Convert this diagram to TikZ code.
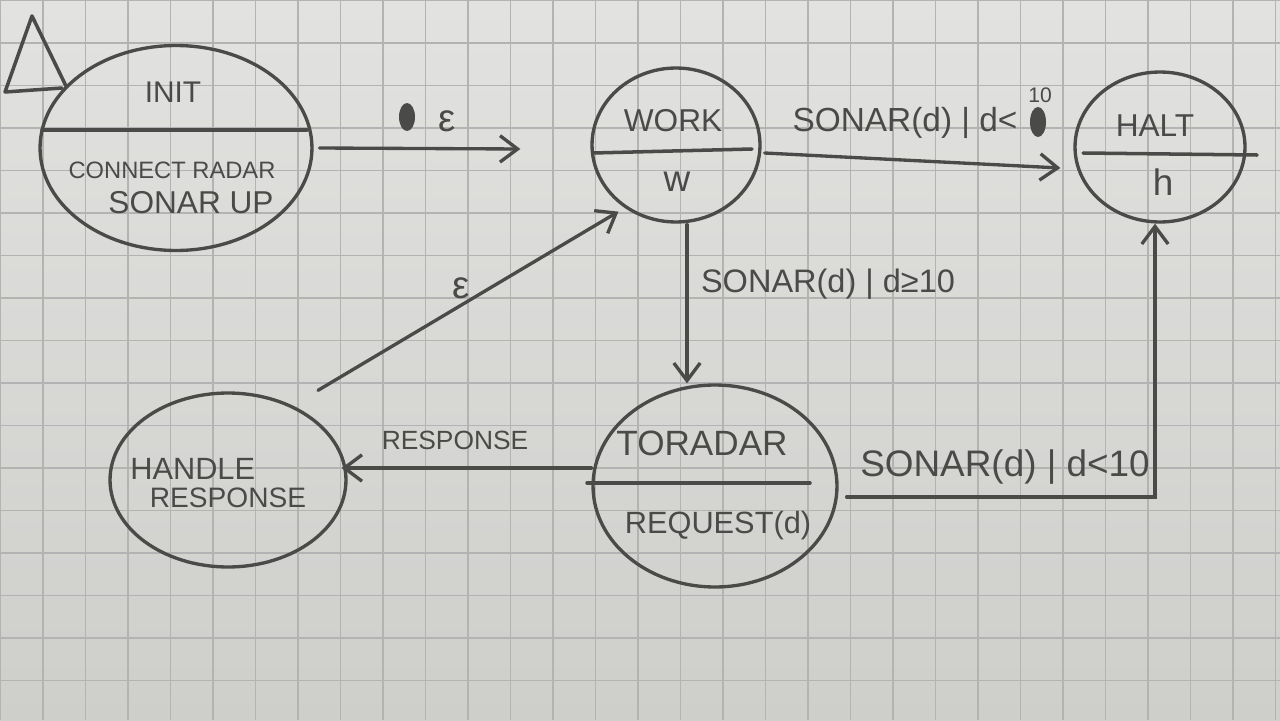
\documentclass[tikz,border=0pt]{standalone}
\usepackage{fontspec}
\setmainfont{Liberation Sans}
\usetikzlibrary{arrows.meta,shapes.geometric,calc}
\definecolor{paper}{RGB}{206,206,203}
\definecolor{papertop}{RGB}{226,226,224}
\definecolor{gridc}{RGB}{178,179,179}
\definecolor{ink}{RGB}{74,75,73}
\newcommand{\fs}[1]{\fontsize{#1}{#1}\selectfont}
\begin{document}
\begin{tikzpicture}[x=0.02cm,y=-0.02cm,
  inkline/.style={draw=ink, line width=2pt, line cap=round},
  state/.style={ellipse, draw=ink, line width=1.9pt, inner sep=0pt},
  lbl/.style={text=ink, inner sep=0pt},
  arr/.style={draw=ink, line width=1.9pt, line cap=round,
    -{Straight Barb[length=10pt,width=15pt,line width=1.9pt]}}]
\useasboundingbox (0,0) rectangle (1280,720);
% paper
\shade[top color=papertop, bottom color=paper] (0,0) rectangle (1280,720);
\foreach \i in {0,...,30} \draw[gridc, line width=0.8pt] (0.5+42.5*\i,0) -- (0.5+42.5*\i,720);
\foreach \j in {0,...,17} \draw[gridc, line width=0.8pt] (0,0.5+42.5*\j) -- (1280,0.5+42.5*\j);

% states
\node[state, minimum width=5.44cm, minimum height=4.1cm] (init) at (176,148) {};
\node[state, minimum width=3.36cm, minimum height=3.08cm] (work) at (676,145) {};
\node[state, minimum width=3.4cm, minimum height=3.0cm] (halt) at (1160,147) {};
\node[state, minimum width=4.88cm, minimum height=4.04cm] (toradar) at (715,486) {};
\node[state, minimum width=4.72cm, minimum height=3.48cm] (handle) at (228,480) {};

% dividers
\draw[inkline] (42,130) -- (307,130);
\draw[inkline] (593,153) -- (752,149);
\draw[inkline] (1083,153) -- (1257,155);
\draw[inkline] (587,483) -- (810,483);

% initial marker
\draw[inkline, line join=round] (66,86) -- (32,16) -- (5,92) -- (62,88);

% state texts
\node[lbl, font=\fs{17}] (initT) at (173,92) {INIT};
\node[lbl, font=\fs{13.5}] (initA) at (172,170) {CONNECT RADAR};
\node[lbl, font=\fs{18}] (initB) at (191,203) {SONAR UP};
\node[lbl, font=\fs{18}] (workT) at (673,121) {WORK};
\node[lbl, font=\fs{21}] (workA) at (677,182) {w};
\node[lbl, font=\fs{18}] (haltT) at (1155,126) {HALT};
\node[lbl, font=\fs{21}] (haltA) at (1163,182) {h};
\node[lbl, font=\fs{20}] (torT) at (702,443) {TORADAR};
\node[lbl, font=\fs{17.5}] (torA) at (718,526) {REQUEST(d)};
\node[lbl, font=\fs{17.5}, anchor=west] (hanT) at (130,469) {HANDLE};
\node[lbl, font=\fs{16}] (hanA) at (228,498) {RESPONSE};

% transitions
\draw[arr] ($(init.east)+(6,0)$) -- ($(work.west)+(-70,4)$);
\draw[arr] ($(work.east)+(3,8)$) -- ($(halt.west)+(-13,21)$);
\draw[arr] ($(work.south)+(11,1)$) -- ($(toradar.north)+(-28,0)$);
\draw[arr] ($(toradar.west)+(0,-18)$) -- ($(handle.east)+(-6,-12)$);
\draw[arr] ($(handle.north)+(90,-1)$) -- ($(work.south west)+(3,11)$);
\draw[arr] ($(toradar.east)+(8,11)$) -| ($(halt.south)+(-5,0)$);

% transition labels
\fill[ink] (407,117) ellipse [x radius=8, y radius=14];
\node[lbl, font=\fs{22}] (eps1) at (447,121) {ε};
\node[lbl, font=\fs{19}] (lWH) at (905,123) {SONAR(d) | d<};
\fill[ink] (1038,122) ellipse [x radius=8, y radius=15];
\node[lbl, font=\fs{12}] (ten) at (1040,95) {10};
\node[lbl, font=\fs{18.5}] (lWT) at (828,284) {SONAR(d) | d≥10};
\node[lbl, font=\fs{15}] (lTH) at (455,440) {RESPONSE};
\node[lbl, font=\fs{22}] (eps2) at (461,288) {ε};
\node[lbl, font=\fs{21}] (lTHa) at (1005,467) {SONAR(d) | d<10};
\end{tikzpicture}
\end{document}
